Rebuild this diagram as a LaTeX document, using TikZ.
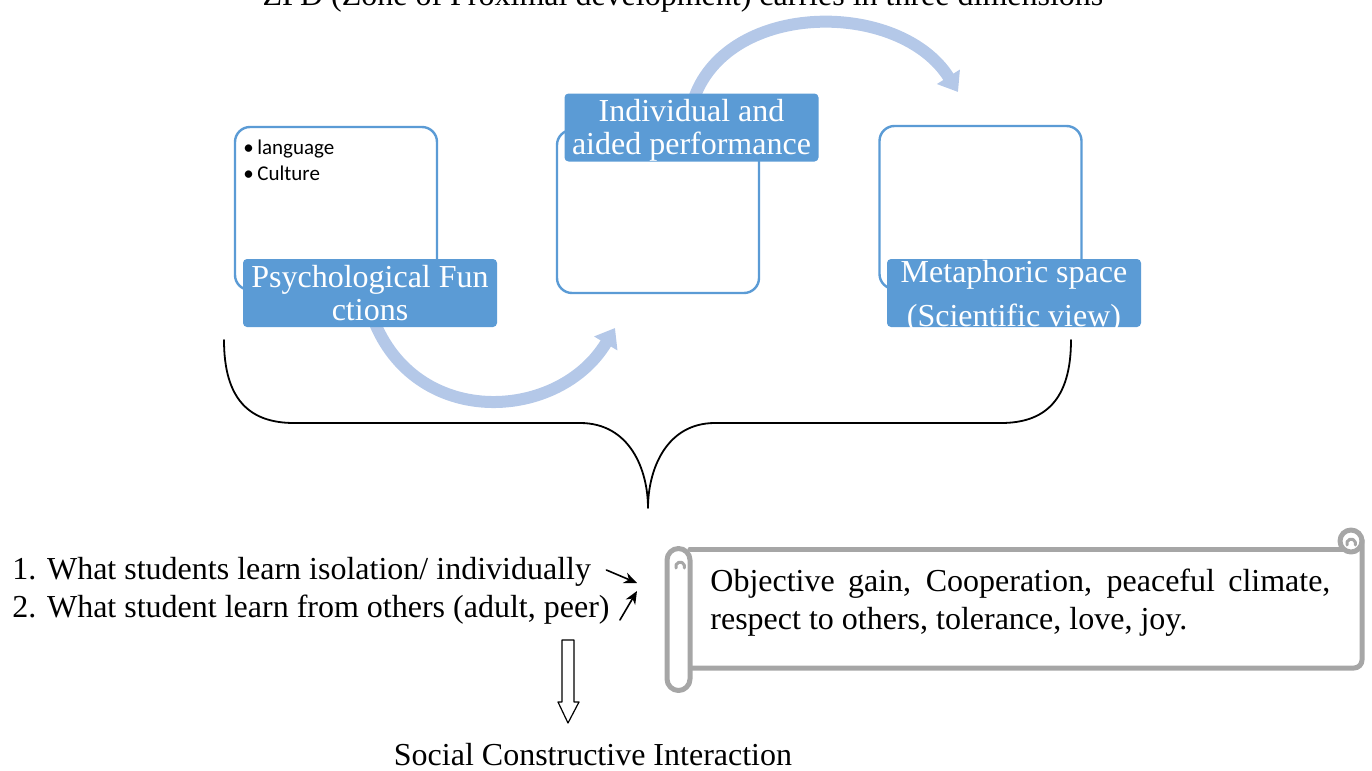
\documentclass[tikz,border=0pt]{standalone}
\usepackage{fontspec}
\setmainfont{Liberation Serif}
\newfontfamily\calibrifont{Carlito}
\usepackage{color}
\usetikzlibrary{arrows.meta}
\usetikzlibrary{backgrounds}
\definecolor{zpdblue}{HTML}{5B9BD5}
\definecolor{cyclecol}{HTML}{B4C8E8}
\definecolor{scrollgray}{HTML}{A6A6A6}
\tikzset{
  dimbox/.style={draw=zpdblue,line width=1.2pt,rounded corners=7.5pt,minimum width=101pt,minimum height=81.5pt},
  dimlabel/.style={fill=zpdblue,text=white,rounded corners=2pt,minimum width=127pt,minimum height=34pt,inner sep=0pt,align=center,font=\fontsize{16}{16.5}\selectfont},
  dimtext/.style={text=white,inner sep=0pt,align=center,font=\fontsize{16}{16.5}\selectfont},
  cyclearrow/.style={cyclecol,line width=6pt,line cap=butt,-{Triangle[length=9pt,width=13pt]}},
  plain/.style={font=\fontsize{16}{19}\selectfont,inner sep=0pt},
  pointer/.style={-{Stealth[length=6.5pt,width=5.5pt]},line width=0.8pt},
  scroll/.style={draw=scrollgray,line width=2.5pt}
}
\begin{document}
\begin{tikzpicture}[x=0.5pt,y=-0.5pt,line cap=round,line join=round]
        \useasboundingbox (0,0) rectangle (1372,771);
        \clip (0,0) rectangle (1372,771);
        \node[plain,anchor=base] (title) at (683,5) {ZPD (Zone of Proximal development) carries in three dimensions};
        \node[dimbox] (box1) at (336,208.5) {};
        \node[dimbox] (box2) at (658,211.5) {};
        \node[dimbox] (box3) at (980.5,207.5) {};
        \node[anchor=north west,align=left,inner sep=0pt,font=\calibrifont\fontsize{10.5}{13}\selectfont] (topics) at (243,140) {•\,language\\•\,Culture};
        \node[dimlabel] (lab1) at (370,293) {Psychological Fun\\ctions};
        \node[dimlabel] (lab2) at (691.5,127.5) {};
        \node[dimtext] (lab2txt) at (691.5,130.5) {Individual and\\aided performance};
        \node[dimlabel] (lab3) at (1014,293) {};
        \node[dimtext,font=\fontsize{16}{22}\selectfont] (lab3txt) at (1014,297) {Metaphoric space\\(Scientific view)};
        \coordinate (t1) at (615,328);
        \coordinate (t2) at (958,92);
        \begin{scope}[on background layer]
          \draw[cyclearrow] ([xshift=2.5pt,yshift=2pt]lab1.south) .. controls (420,430) and (560,420) .. (t1);
          \draw[cyclearrow] ([xshift=1.5pt,yshift=-2pt]lab2.north) .. controls (730,0) and (900,0) .. (t2);
        \end{scope}
        \draw[line width=0.9pt] (224,340) .. controls (224,400) and (250,423) .. (294,423) -- (580,423)
          .. controls (630,423) and (648,470) .. (648,508) .. controls (648,470) and (666,423) .. (715,423)
          -- (1001,423) .. controls (1045,423) and (1071,400) .. (1071,340);
        \node[plain,anchor=west] (learn1) at (12,572) {1. What students learn isolation/ individually};
        \node[plain,anchor=west] (learn2) at (12,610) {2. What student learn from others (adult, peer)};
        \coordinate (m1) at (637,583);
        \coordinate (m2) at (637,591);
        \draw[pointer] ([xshift=7.5pt,yshift=1pt]learn1.east) -- (m1);
        \draw[pointer] ([xshift=5pt,yshift=-5pt]learn2.east) -- (m2);
        \draw[line width=0.6pt] (562,640) -- (562,702) -- (558,702) -- (568,723) -- (579,702) -- (574,702) -- (574,640) -- cycle;
        \node[plain] (social) at (593,755) {Social Constructive Interaction};
        \draw[scroll] (690,549) -- (1343,549);
        \draw[scroll,rounded corners=4pt] (1362,540) -- (1362,668) -- (690,668);
        \draw[scroll] (1351,541) circle (5.5pt);
        \draw[scroll,line width=1.5pt] (1347,545) arc (200:-20:2.2pt);
        \draw[scroll,fill=white] (667,560) -- (667,679) arc (180:360:5.75pt) -- (690,679) -- (690,560) arc (0:180:5.75pt);
        \draw[scroll,line width=1.5pt] (676,568) arc (200:-20:2.2pt);
        \node[plain,anchor=north west,text width=310pt,align=justify] (gain) at (710,569) {Objective gain, Cooperation, peaceful climate, respect to others, tolerance, love, joy.};
\end{tikzpicture}
\end{document}
